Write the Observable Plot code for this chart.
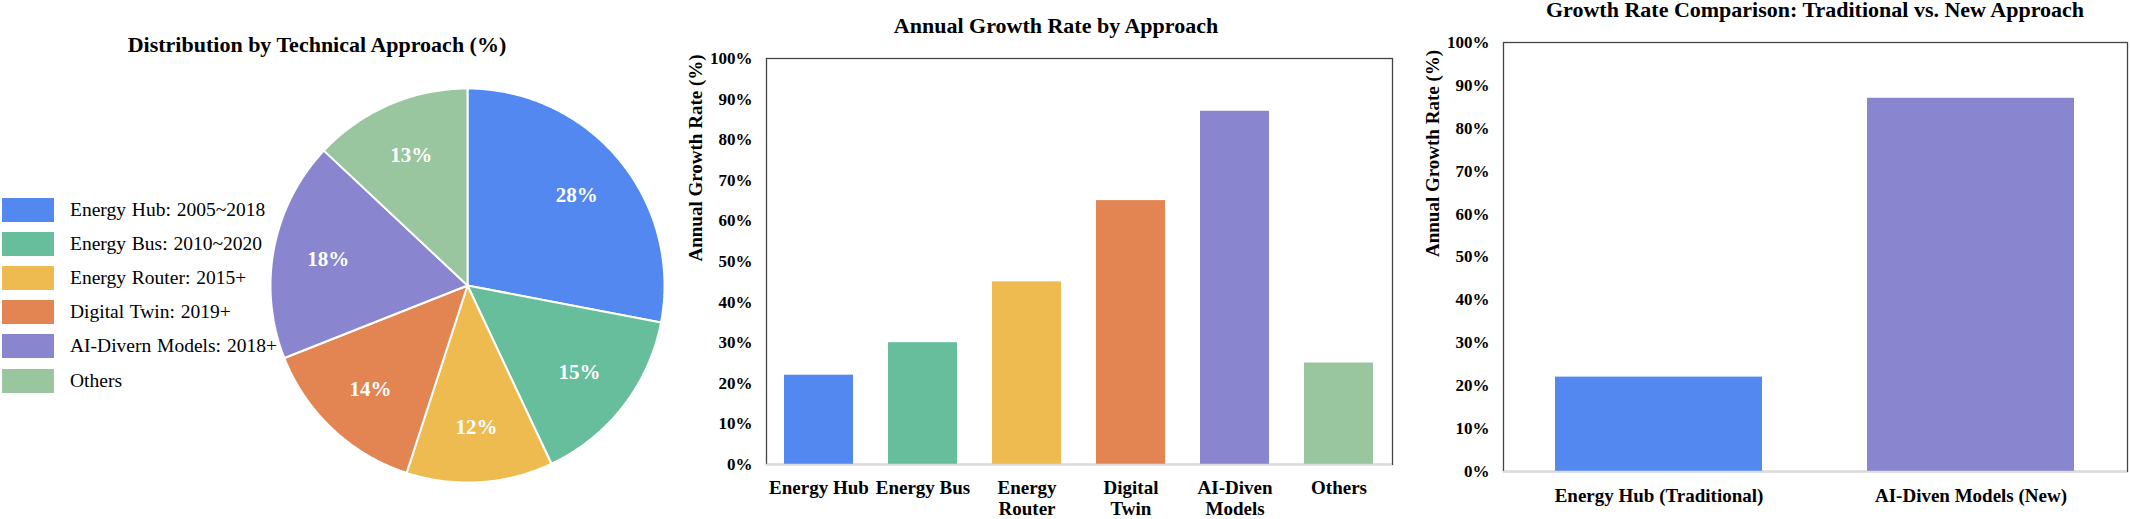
<!DOCTYPE html>
<html>
<head>
<meta charset="utf-8">
<script src="https://cdn.jsdelivr.net/npm/d3@7"></script>
<script src="https://cdn.jsdelivr.net/npm/@observablehq/plot@0.6"></script>
<style>
  html, body { margin: 0; padding: 0; background: #fff; }
  body { width: 2130px; height: 519px; position: relative; overflow: hidden;
         font-family: "Liberation Serif", "Times New Roman", serif; color: #000; }
  .panel { position: absolute; top: 0; }
  .title { position: absolute; font-weight: bold; font-size: 22px; line-height: 22px;
           white-space: nowrap; transform: translateX(-50%); }
  #legend { position: absolute; left: 2px; top: 192.6px; }
  .row { height: 34.2px; display: flex; align-items: center; }
  .sw { width: 52px; height: 24px; margin-right: 16px; }
  .lab { font-size: 19.5px; line-height: 20px; white-space: nowrap; word-spacing: 1px; }
</style>
</head>
<body>
<div id="pieTitle" class="title" style="left:317px; top:33.5px;">Distribution by Technical Approach (%)</div>
<div id="barTitle" class="title" style="left:1056px; top:14.5px;">Annual Growth Rate by Approach</div>
<div id="compTitle" class="title" style="left:1815px; top:-1.5px;">Growth Rate Comparison: Traditional vs. New Approach</div>
<div id="legend"></div>
<div id="pie" class="panel" style="left:0px;"></div>
<div id="bars" class="panel" style="left:680px;"></div>
<div id="comp" class="panel" style="left:1400px;"></div>
<script>
// ---- data ----
const categories = ["Energy Hub", "Energy Bus", "Energy Router", "Digital Twin", "AI-Diven Models", "Others"];
const legendLabels = ["Energy Hub: 2005~2018", "Energy Bus: 2010~2020", "Energy Router: 2015+", "Digital Twin: 2019+", "AI-Divern Models: 2018+", "Others"];
const shares = [28, 15, 12, 14, 18, 13];
const growthRates = [22, 30, 45, 65, 87, 25];
const barTickLabels = ["Energy Hub", "Energy Bus", "Energy\nRouter", "Digital\nTwin", "AI-Diven\nModels", "Others"];
const compCategories = ["Energy Hub (Traditional)", "AI-Diven Models (New)"];
const compRates = [22, 87];
const palette = ["#5288F0", "#66BE9D", "#EDBB50", "#E38552", "#8985CE", "#99C69E"];
const compPalette = [palette[0], palette[4]];
const yTicks = [0, 10, 20, 30, 40, 50, 60, 70, 80, 90, 100];
const yLabel = "Annual Growth Rate (%)";

const font = "'Liberation Serif', 'Times New Roman', serif";

// ---- legend ----
const legend = document.getElementById("legend");
legendLabels.forEach((t, i) => {
  const row = document.createElement("div"); row.className = "row";
  const sw = document.createElement("div"); sw.className = "sw"; sw.style.background = palette[i];
  const lab = document.createElement("div"); lab.className = "lab"; lab.textContent = t;
  row.appendChild(sw); row.appendChild(lab); legend.appendChild(row);
});

// ---- pie ----
const arcs = d3.pie().sort(null).value(d => d)(shares);
const slicePts = [];
arcs.forEach((a, i) => {
  slicePts.push({name: categories[i], x: 0, y: 0});
  const n = Math.max(2, Math.ceil((a.endAngle - a.startAngle) / (Math.PI / 360)));
  for (let k = 0; k <= n; k++) {
    const t = a.startAngle + (a.endAngle - a.startAngle) * k / n;
    slicePts.push({name: categories[i], x: Math.sin(t), y: Math.cos(t)});
  }
});
const pieLabels = arcs.map((a, i) => {
  const m = (a.startAngle + a.endAngle) / 2;
  return {x: 0.72 * Math.sin(m), y: 0.72 * Math.cos(m), text: shares[i] + "%"};
});

const pie = Plot.plot({
  width: 680, height: 519,
  marginLeft: 270, marginRight: 16, marginTop: 88, marginBottom: 37,
  x: {domain: [-1, 1], axis: null},
  y: {domain: [-1, 1], axis: null},
  color: {domain: categories, range: palette},
  style: {fontFamily: font, background: "transparent", overflow: "visible"},
  marks: [
    Plot.line(slicePts, {x: "x", y: "y", z: "name", fill: "name", stroke: "white", strokeWidth: 2, curve: "linear-closed", strokeLinejoin: "miter"}),
    Plot.text(pieLabels, {x: "x", y: "y", text: "text", fill: "white", fontWeight: "bold", fontSize: 21})
  ]
});
document.getElementById("pie").appendChild(pie);

// ---- bar chart ----
const barData = categories.map((c, i) => ({name: c, value: growthRates[i]}));
const tickLab = new Map(categories.map((c, i) => [c, barTickLabels[i]]));

function barChart({data, domain, colors, width, marginLeft, marginRight, marginTop, marginBottom, xPad, labelDx, fmt}) {
  return Plot.plot({
    width, height: 519, marginLeft, marginRight, marginTop, marginBottom,
    x: {domain, paddingInner: 0.335, paddingOuter: 0.1675, align: 0.5},
    y: {domain: [0, 100]},
    color: {domain, range: colors},
    style: {fontFamily: font, fontWeight: "bold", background: "transparent", overflow: "visible", color: "#000"},
    marks: [
      Plot.frame({stroke: "#444", strokeWidth: 1.3}),
      Plot.barY(data, {x: "name", y: "value", fill: "name"}),
      Plot.ruleY([0], {stroke: "#dcdcdc", strokeWidth: 1.6}),
      Plot.axisY({ticks: yTicks, tickFormat: d => d + "%", tickSize: 0, tickPadding: 14, fontSize: 17, fontWeight: "bold", label: null}),
      Plot.axisX({tickSize: 0, tickPadding: xPad, fontSize: 19, fontWeight: "bold", lineHeight: 1.1, tickFormat: fmt, label: null}),
      Plot.text([yLabel], {text: d => d, frameAnchor: "left", rotate: -90, dx: labelDx, fontSize: 19, fontWeight: "bold"})
    ]
  });
}

const bars = barChart({
  data: barData, domain: categories, colors: palette,
  width: 720, marginLeft: 86, marginRight: 8, marginTop: 58, marginBottom: 55,
  xPad: 15, labelDx: -71, fmt: d => tickLab.get(d)
});
document.getElementById("bars").appendChild(bars);

const compData = compCategories.map((c, i) => ({name: c, value: compRates[i]}));
const comp = barChart({
  data: compData, domain: compCategories, colors: compPalette,
  width: 730, marginLeft: 103, marginRight: 3, marginTop: 42, marginBottom: 48,
  xPad: 16, labelDx: -71, fmt: d => d
});
document.getElementById("comp").appendChild(comp);
</script>
</body>
</html>
